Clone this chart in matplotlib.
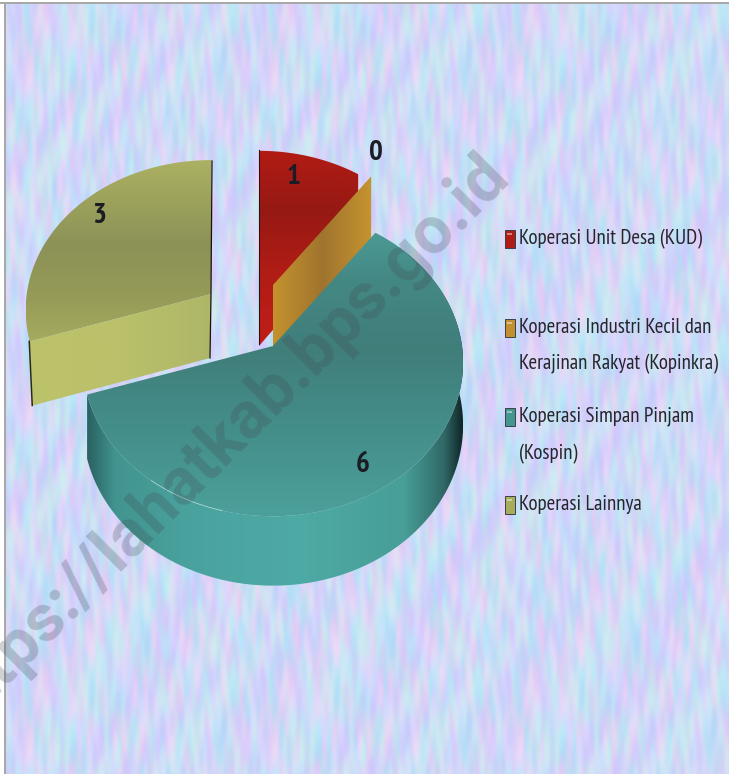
import numpy as np
import matplotlib
matplotlib.use('Agg')
import matplotlib.pyplot as plt
import matplotlib.font_manager as fm
from matplotlib.patches import Polygon, Rectangle

categories = ['Koperasi Unit Desa (KUD)',
              'Koperasi Industri Kecil dan\nKerajinan Rakyat (Kopinkra)',
              'Koperasi Simpan Pinjam\n(Kospin)',
              'Koperasi Lainnya']
values = [1, 0, 6, 3]
colors = ['#b01c16', '#c29030', '#45968f', '#a8ad5c']
watermark = 'https://lahatkab.bps.go.id'

installed = {f.name for f in fm.fontManager.ttflist}
narrow = [n for n in ['PT Sans Narrow', 'Pragati Narrow', 'Archivo Narrow', 'Roboto Condensed',
                      'Liberation Sans Narrow', 'Roboto'] if n in installed]
plt.rcParams['font.family'] = narrow[:1] + ['DejaVu Sans']

RX, RY, PERSP, DEPTH = 189, 152, 0.107, 62


def rim(cx, cy, angles, z=0.0, r=1.0):
    t = np.radians(angles)
    w = 1 + PERSP * np.cos(t)
    x = cx + r * RX * np.sin(t) / w
    y = cy - r * RY * np.cos(t) / w + z * DEPTH / w
    return np.column_stack([x, y])


def shade(ax, pts, stops, vertical=True):
    # gradient image clipped to the polygon
    pos, cols = zip(*stops)
    cols = np.array(cols) / 255
    lo, hi = (pts[:, 1].min(), pts[:, 1].max()) if vertical else (pts[:, 0].min(), pts[:, 0].max())
    s = np.linspace(lo, hi, 256)
    line = np.column_stack([np.interp(s, pos, cols[:, i]) for i in range(3)])
    img = line[:, None, :] if vertical else line[None, :, :]
    x0, x1, y0, y1 = pts[:, 0].min(), pts[:, 0].max(), pts[:, 1].min(), pts[:, 1].max()
    im = ax.imshow(img, extent=[x0, x1, y1, y0], aspect='auto', zorder=ax.zo, interpolation='bilinear')
    patch = Polygon(pts, closed=True, transform=ax.transData, fc='none', ec='none')
    ax.add_patch(patch)
    im.set_clip_path(patch)
    ax.zo += 1


def mottle(u, v, shift):
    # plain sum of waves, finer across than along so it looks streaky
    out = np.zeros_like(u)
    for k in range(1, 90):
        fx = 2 + (k * 7) % 29
        fy = (k * 11) % 13 - 6
        ph = (k * k * 0.3819 + k * shift) * 2 * np.pi
        out += np.sin(fx * u + fy * v + ph) / fx ** 0.4
    return np.tanh(out / out.std() / 1.6) * 1.6


def background(w, h):
    tw, th = 245, 336
    y, x = np.mgrid[0:th, 0:tw]
    u = x / tw * 2 * np.pi
    v = y / th * 2 * np.pi
    a, b, c = mottle(u, v, 0.13), mottle(u, v, 0.41), mottle(u, v, 0.77)
    tile = np.zeros((th, tw, 3))
    tile[..., 0] = 207 + 11 * a - 7 * b + 3 * c
    tile[..., 1] = 218 - 7 * a - 2 * b + 5 * c
    tile[..., 2] = 247 + 2 * a + 3 * b + 1 * c
    tile = np.clip(tile, 0, 255) / 255
    reps = (h // th + 2, w // tw + 2, 1)
    return np.tile(tile, reps)[:h, :w]


fig = plt.figure(figsize=(7.29, 7.74), dpi=100)
ax = fig.add_axes([0, 0, 1, 1])
ax.zo = 2
ax.imshow(background(724, 770), extent=[5, 729, 774, 4], aspect='auto', zorder=1, interpolation='bilinear')
ax.add_patch(Rectangle((0, 2), 729, 2, fc='#a8a8a8', ec='none', zorder=1.5))
ax.add_patch(Rectangle((4.5, 2), 1.2, 772, fc='#a8a8a8', ec='none', zorder=1.5))

edges = np.cumsum([0] + values) / sum(values) * 360

# olive slice, pulled away to the upper left
a0, a1 = edges[3], edges[4]
c = (211, 294)
arc = rim(*c, np.linspace(a0, a1, 80), r=0.975)
shade(ax, np.vstack([[c], arc]), [(160, (172, 177, 98)), (245, (140, 146, 86)), (300, (150, 155, 88)), (345, (168, 172, 96))])
foot = rim(*c, [a0], 1, r=0.975) + [3, 0]
wall = np.vstack([[c], rim(*c, [a0], r=0.975), foot, [(c[0] - 1, c[1] + DEPTH + 2)]])
shade(ax, wall, [(26, (188, 195, 106)), (120, (186, 193, 106)), (211, (174, 182, 104))], vertical=False)
ax.plot([c[0] + 1, c[0], c[0] - 1], [161, 294, 358], color='#14140a', lw=0.9, zorder=ax.zo)
left = np.vstack([rim(*c, [a0], r=0.975), foot])
ax.plot(left[:, 0] - 0.5, left[:, 1], color='#2a2a14', lw=1.1, zorder=ax.zo)

# red slice, face and cut side in one shape
a0, a1 = edges[0], edges[1]
c = (259, 284)
arc = rim(*c, np.linspace(a0, a1, 40), r=0.97)
outline = np.vstack([arc, rim(*c, [a1], 1, r=0.97), [(c[0], c[1] + DEPTH)]])
shade(ax, outline, [(150, (178, 28, 20)), (210, (150, 25, 20)), (270, (176, 28, 22)), (345, (192, 30, 24))])
ax.plot([c[0], c[0]], [150, 344], color='#301010', lw=0.8, zorder=ax.zo)

# zero slice shows only its cut face
a0 = edges[1]
c = (273, 285)
wall = np.vstack([[c], rim(*c, [a0], r=0.96), rim(*c, [a0], 1.1, r=0.96), [(c[0], c[1] + DEPTH + 4)]])
shade(ax, wall, [(273, (196, 146, 46)), (322, (160, 116, 46)), (371, (198, 148, 46))], vertical=False)

# big teal slice
a0, a1 = edges[2], edges[3]
c = (273, 346)
th = np.linspace(a0, a1, 200)
wall = np.vstack([rim(*c, th), rim(*c, th[::-1], 1)])
shade(ax, wall, [(84, (38, 92, 92)), (115, (66, 148, 144)), (190, (74, 162, 158)), (300, (78, 170, 165)),
                 (405, (72, 158, 152)), (445, (48, 104, 102)), (464, (14, 36, 36))], vertical=False)
shade(ax, np.vstack([[c], rim(*c, th)]), [(230, (76, 155, 150)), (280, (68, 136, 132)), (350, (64, 126, 122)),
                                          (430, (68, 142, 138)), (517, (76, 160, 155))])
glint = rim(*c, np.linspace(194, 216, 30))
ax.plot(glint[:, 0], glint[:, 1], color='#d8f4f0', lw=0.6, alpha=0.6, zorder=ax.zo)
ax.zo += 1

# watermark sits over the pie
ax.text(476, 143, watermark, rotation=45, rotation_mode='anchor', ha='right', va='top', fontsize=48,
        family=['Roboto', 'DejaVu Sans'], fontweight='bold', color='#404850', alpha=0.25, zorder=ax.zo)
ax.zo += 1

# slice labels
label_pos = [(293, 177), (376, 153), (363, 465), (99, 216)]
for v, (x, y) in zip(values, label_pos):
    ax.text(x, y, str(v), ha='center', va='center', fontsize=21, fontweight='bold', color='#1c1c24', zorder=ax.zo)

# legend
legend_rows = [239, 328, 417, 505]
for name, col, y in zip(categories, colors, legend_rows):
    ax.add_patch(Rectangle((505, y - 9), 10, 18, fc=col, ec='#39424a', lw=0.7, zorder=ax.zo))
    ax.add_patch(Rectangle((507.5, y - 6), 5, 2, fc='white', ec='none', alpha=0.45, zorder=ax.zo))
    ax.text(519, y + 18 * name.count('\n'), name, ha='left', va='center', fontsize=15, linespacing=2.14,
            color='#26262e', zorder=ax.zo)

ax.set_xlim(0, 729)
ax.set_ylim(774, 0)
ax.axis('off')
fig.savefig('out.png', dpi=100, facecolor='white')
